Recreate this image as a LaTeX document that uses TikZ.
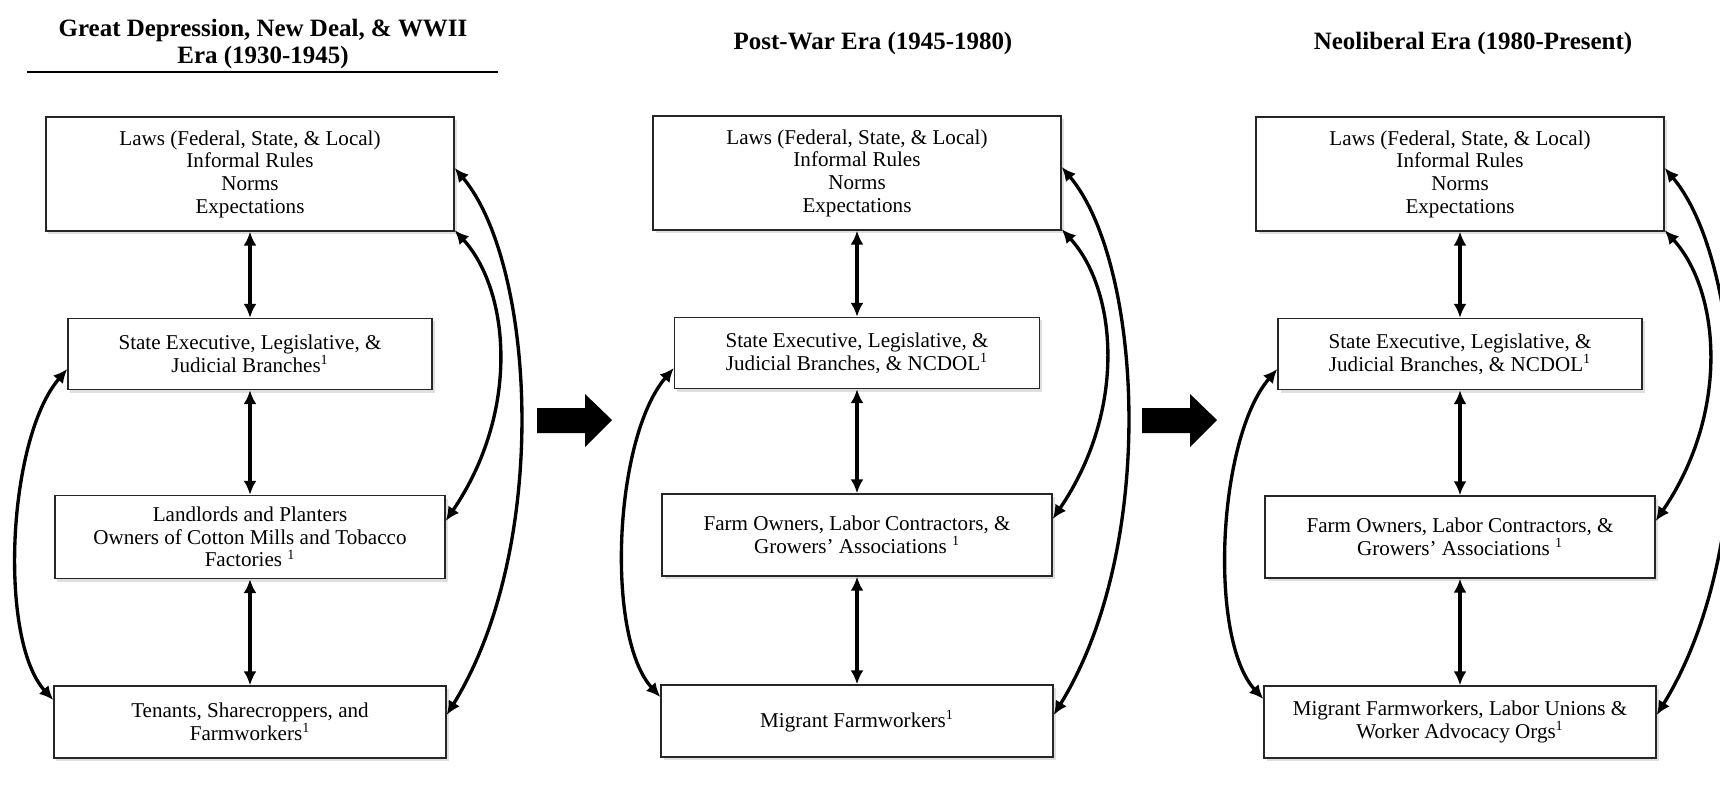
\documentclass[tikz,border=0pt]{standalone}
\usepackage{fontspec}
\setmainfont{Liberation Serif}
\usepackage{tikz}
\usetikzlibrary{shapes,arrows.meta,shadows}
\tikzstyle{stagebox} = [draw=black!85, line width=0.8pt, fill=white, align=center, inner sep=2pt, font=\fontsize{12}{12.9}\selectfont, drop shadow={shadow xshift=0.5mm, shadow yshift=-0.6mm, opacity=0.25}]
\tikzstyle{eratitle} = [font=\fontsize{14.2}{15.6}\selectfont\bfseries, align=center]
\tikzstyle{link} = [draw, <->, line width=1.9pt]
\tikzstyle{bigarrow} = [fill=black]

\begin{document}
\begin{tikzpicture}[x=0.2mm, y=-0.2mm, >={Latex[length=2.8mm, width=2.6mm]}]
\clip (0,0) rectangle (1720,788);
\fill[white] (0,0) rectangle (1720,788);

%% Great Depression, New Deal, WWII
\node[eratitle] (title1) at (263, 44) {Great Depression, New Deal, \& WWII\\Era (1930-1945)};
\draw[line width=1.1pt] (27,72) -- (498,72);
\node[stagebox, minimum width=81.6mm, minimum height=22.8mm] (laws1) at (250,174) {Laws (Federal, State, \& Local)\\Informal Rules\\Norms\\Expectations};
\node[stagebox, minimum width=72.8mm, minimum height=14.2mm] (state1) at (250,354) {State Executive, Legislative, \&\\Judicial Branches\textsuperscript{1}};
\node[stagebox, minimum width=78mm, minimum height=16.6mm] (owners1) at (250,537) {Landlords and Planters\\Owners of Cotton Mills and Tobacco\\Factories \textsuperscript{1}};
\node[stagebox, minimum width=78.4mm, minimum height=14.4mm] (workers1) at (250,722) {Tenants, Sharecroppers, and\\Farmworkers\textsuperscript{1}};
\draw[link] (laws1) -- (state1);
\draw[link] (state1) -- (owners1);
\draw[link] (owners1) -- (workers1);
\draw[link] ([yshift=-3mm]state1.west) .. controls +(-60,70) and +(-55,-60) .. ([yshift=4.4mm]workers1.west);
\draw[link] ([yshift=1.2mm]laws1.east) .. controls +(80,95) and +(105,-170) .. ([yshift=1.4mm]workers1.east);
\draw[link] ([yshift=0.3mm]laws1.south east) .. controls +(55,60) and +(75,-110) .. ([yshift=3.2mm]owners1.east);

\fill[bigarrow] (537,408) -- (585,408) -- (585,394) -- (612,420) -- (585,447) -- (585,433) -- (537,433) -- cycle;

%% Post-War
\begin{scope}[shift={(605,0)}]
\node[eratitle] (title2) at (268, 44) {Post-War Era (1945-1980)};
\node[stagebox, minimum width=81.6mm, minimum height=22.8mm] (laws2) at (252,173) {Laws (Federal, State, \& Local)\\Informal Rules\\Norms\\Expectations};
\node[stagebox, minimum width=73mm, minimum height=14.2mm] (state2) at (252,353) {State Executive, Legislative, \&\\Judicial Branches, \& NCDOL\textsuperscript{1}};
\node[stagebox, minimum width=78mm, minimum height=16.4mm] (owners2) at (252,535) {Farm Owners, Labor Contractors, \&\\Growers' Associations \textsuperscript{1}};
\node[stagebox, minimum width=78.4mm, minimum height=14.4mm] (workers2) at (252,721) {Migrant Farmworkers\textsuperscript{1}};
\draw[link] (laws2) -- (state2);
\draw[link] (state2) -- (owners2);
\draw[link] (owners2) -- (workers2);
\draw[link] ([yshift=-3mm]state2.west) .. controls +(-60,70) and +(-55,-60) .. ([yshift=4.8mm]workers2.west);
\draw[link] ([yshift=1.2mm]laws2.east) .. controls +(80,95) and +(105,-170) .. ([yshift=1.2mm]workers2.east);
\draw[link] ([yshift=0.3mm]laws2.south east) .. controls +(55,60) and +(75,-110) .. ([yshift=3.2mm]owners2.east);
\end{scope}

\fill[bigarrow] (1142,408) -- (1190,408) -- (1190,394) -- (1217,420) -- (1190,447) -- (1190,433) -- (1142,433) -- cycle;

%% Neoliberal
\begin{scope}[shift={(1210,0)}]
\node[eratitle] (title3) at (263, 44) {Neoliberal Era (1980-Present)};
\node[stagebox, minimum width=81.6mm, minimum height=22.8mm] (laws3) at (250,174) {Laws (Federal, State, \& Local)\\Informal Rules\\Norms\\Expectations};
\node[stagebox, minimum width=72.8mm, minimum height=14.2mm] (state3) at (250,354) {State Executive, Legislative, \&\\Judicial Branches, \& NCDOL\textsuperscript{1}};
\node[stagebox, minimum width=78mm, minimum height=16.4mm] (owners3) at (250,537) {Farm Owners, Labor Contractors, \&\\Growers' Associations \textsuperscript{1}};
\node[stagebox, minimum width=78.4mm, minimum height=14.4mm] (workers3) at (250,722) {Migrant Farmworkers, Labor Unions \&\\Worker Advocacy Orgs\textsuperscript{1}};
\draw[link] (laws3) -- (state3);
\draw[link] (state3) -- (owners3);
\draw[link] (owners3) -- (workers3);
\draw[link] ([yshift=-3mm]state3.west) .. controls +(-60,70) and +(-55,-60) .. ([yshift=4.6mm]workers3.west);
\draw[link] ([yshift=1.2mm]laws3.east) .. controls +(80,95) and +(105,-170) .. ([yshift=1.4mm]workers3.east);
\draw[link] ([yshift=0.3mm]laws3.south east) .. controls +(55,60) and +(75,-110) .. ([yshift=3.2mm]owners3.east);
\end{scope}
\end{tikzpicture}
\end{document}
